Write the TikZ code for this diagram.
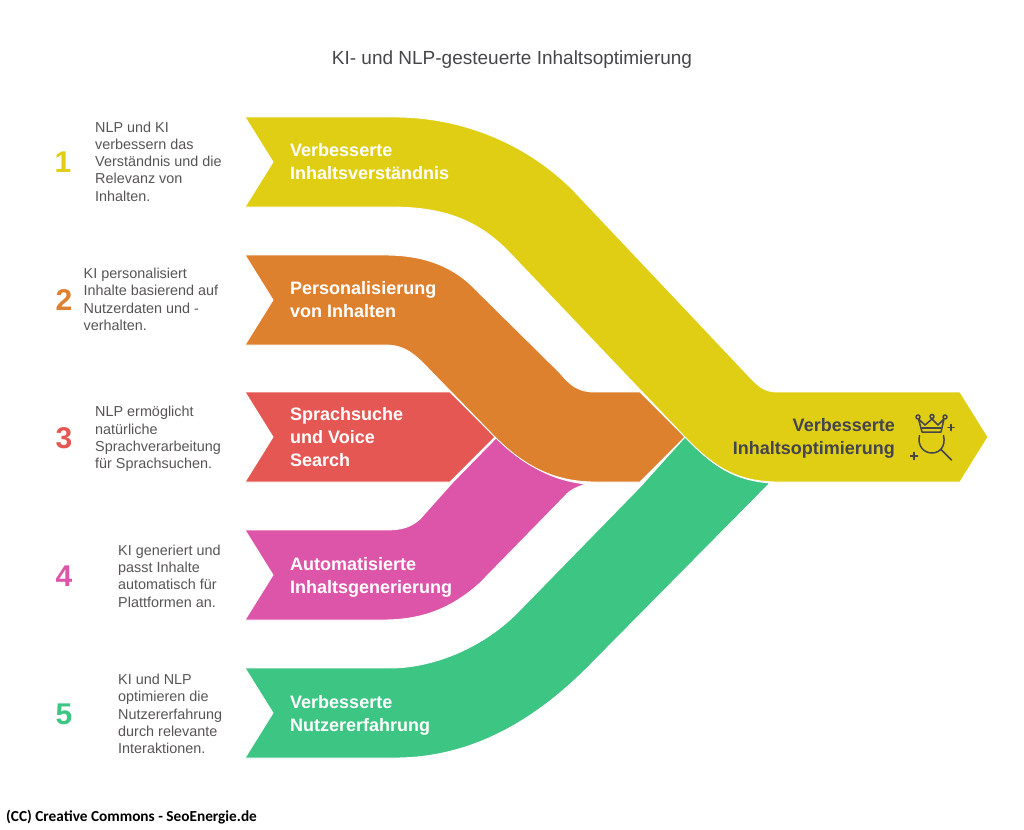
\documentclass[tikz,border=0pt]{standalone}
\usepackage{fontspec}
\setmainfont{Liberation Sans}
\newfontfamily\footfont{Carlito}
\definecolor{bandyellow}{RGB}{224,206,20}
\definecolor{bandorange}{RGB}{222,129,47}
\definecolor{bandred}{RGB}{229,87,83}
\definecolor{bandpink}{RGB}{220,85,168}
\definecolor{bandgreen}{RGB}{61,197,132}
\definecolor{titlegray}{RGB}{70,70,74}
\definecolor{descgray}{RGB}{88,84,84}
\definecolor{icongray}{RGB}{68,68,76}
\tikzset{
    band/.style={draw=white, line width=0.9pt, line join=round},
    bandlabel/.style={anchor=west, inner sep=0pt, align=left, text=white, font=\fontsize{18}{23}\selectfont\bfseries},
    desc/.style={anchor=west, inner sep=0pt, align=left, text=descgray, font=\fontsize{14.4}{17.3}\selectfont},
    numlabel/.style={inner sep=0pt, font=\fontsize{30}{30}\selectfont\bfseries},
    iconline/.style={draw=icongray, line width=1.5pt, line cap=round, line join=round}
}
\begin{document}
\begin{tikzpicture}[x=1pt, y=-1pt]
    \useasboundingbox (0, 0) rectangle (1024, 829);

    % bands, back to front
    \draw[band, fill=bandred] (245, 392) -- (450, 392) -- (495, 437) -- (450, 482) -- (245, 482) -- (273, 437) -- cycle;
    \draw[band, fill=bandpink] (245, 530) -- (385, 530) .. controls (400, 530) and (410, 528) .. (420, 519) -- (453, 482) -- (497, 437)
        .. controls (525, 465) and (550, 480) .. (586, 484) .. controls (575, 488) and (570, 490) .. (565, 496) -- (480, 583)
        .. controls (450, 610) and (420, 620) .. (383, 620) -- (245, 620) -- (273, 575) -- cycle;
    \draw[band, fill=bandorange] (245, 255) -- (385, 255) .. controls (420, 255) and (450, 264) .. (473, 287) -- (560, 373)
        .. controls (570, 385) and (578, 392) .. (595, 392) -- (640, 392) -- (685, 437) -- (640, 482) -- (595, 482)
        .. controls (555, 482) and (525, 467) .. (495, 437) -- (423, 363) .. controls (410, 350) and (400, 345) .. (385, 345)
        -- (245, 345) -- (273, 300) -- cycle;
    \draw[band, fill=bandgreen] (245, 668) -- (390, 668) .. controls (430, 668) and (480, 650) .. (517, 613) -- (640, 487) -- (685, 437)
        .. controls (715, 468) and (735, 480) .. (770, 483) -- (595, 660)
        .. controls (545, 712) and (480, 758) .. (395, 758) -- (245, 758) -- (273, 713) -- cycle;
    \draw[band, fill=bandyellow] (245, 117) -- (395, 117) .. controls (460, 117) and (525, 142) .. (573, 190) -- (743, 370)
        .. controls (758, 386) and (763, 392) .. (778, 392) -- (960, 392) -- (988, 437) -- (960, 482) -- (778, 482)
        .. controls (735, 482) and (712, 465) .. (685, 437) -- (507, 250) .. controls (475, 218) and (440, 207) .. (390, 207)
        -- (245, 207) -- (273, 162) -- cycle;

    \node[inner sep=0pt, text=titlegray, font=\fontsize{19}{22}\selectfont] (title) at (512, 59.500) {KI- und NLP-gesteuerte Inhaltsoptimierung};

    \node[numlabel, text=bandyellow] (num1) at (63, 162.500) {1};
    \node[numlabel, text=bandorange] (num2) at (64, 300.500) {2};
    \node[numlabel, text=bandred] (num3) at (64, 438) {3};
    \node[numlabel, text=bandpink] (num4) at (64, 576) {4};
    \node[numlabel, text=bandgreen] (num5) at (64, 714) {5};

    \node[desc] (desc1) at (95, 161.500) {NLP und KI\\verbessern das\\Verständnis und die\\Relevanz von\\Inhalten.};
    \node[desc] (desc2) at (83.500, 299.500) {KI personalisiert\\Inhalte basierend auf\\Nutzerdaten und -\\verhalten.};
    \node[desc] (desc3) at (95, 439) {NLP ermöglicht\\natürliche\\Sprachverarbeitung\\für Sprachsuchen.};
    \node[desc] (desc4) at (118, 576) {KI generiert und\\passt Inhalte\\automatisch für\\Plattformen an.};
    \node[desc] (desc5) at (118, 714) {KI und NLP\\optimieren die\\Nutzererfahrung\\durch relevante\\Interaktionen.};

    \node[bandlabel] (label1) at (290, 162) {Verbesserte\\Inhaltsverständnis};
    \node[bandlabel] (label2) at (290, 300) {Personalisierung\\von Inhalten};
    \node[bandlabel] (label3) at (290, 437) {Sprachsuche\\und Voice\\Search};
    \node[bandlabel] (label4) at (290, 577) {Automatisierte\\Inhaltsgenerierung};
    \node[bandlabel] (label5) at (290, 715) {Verbesserte\\Nutzererfahrung};

    \node[anchor=east, inner sep=0pt, align=right, text=icongray, font=\fontsize{18}{23}\selectfont\bfseries] (result) at (895, 438) {Verbesserte\\Inhaltsoptimierung};

    % crown
    \draw[iconline] (918.500, 419) -- (922, 432) -- (941, 432) -- (944, 419) -- (938, 425) -- (932, 419) -- (925, 425) -- cycle;
    \draw[iconline] (922, 428) -- (941, 428);
    \draw[iconline] (918, 417) circle[radius=2pt];
    \draw[iconline] (932, 416.500) circle[radius=2pt];
    \draw[iconline] (945, 417) circle[radius=2pt];
    \draw[iconline] (951, 424.500) -- (951, 430.500);
    \draw[iconline] (948, 427.500) -- (954, 427.500);
    % magnifier
    \draw[iconline] (919.500, 435.500) .. controls (917, 446) and (924, 453) .. (932, 453) .. controls (940, 453) and (946, 446) .. (943.500, 435.500);
    \draw[iconline] (941, 449.500) -- (951.500, 460);
    \draw[iconline] (914, 452.500) -- (914, 459.500);
    \draw[iconline] (910.500, 456) -- (917.500, 456);

    \node[anchor=west, inner sep=0pt, text=black, font=\footfont\fontsize{15.300}{18}\selectfont\bfseries] (credit) at (6, 817) {(CC) Creative Commons - SeoEnergie.de};
\end{tikzpicture}
\end{document}
